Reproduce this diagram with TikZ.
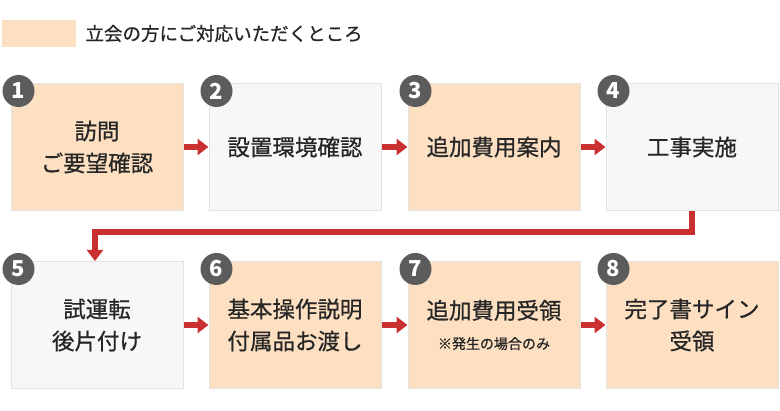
\documentclass[tikz,border=0pt]{standalone}
\usepackage{fontspec}
\setmainfont{Noto Sans CJK JP}
\newfontfamily\heavyjp[FakeBold=0.7]{Noto Sans CJK JP}
\usetikzlibrary{arrows.meta,positioning}
\definecolor{peach}{HTML}{FDDFC2}
\definecolor{pale}{HTML}{F7F7F7}
\definecolor{edge}{HTML}{E2E2E2}
\definecolor{flowred}{HTML}{C9302F}
\definecolor{numgray}{HTML}{5C5C5C}
\tikzset{
  stepbox/.style={draw=edge, line width=1pt, minimum width=172pt, minimum height=127pt,
    inner sep=0pt, align=center, font=\heavyjp\fontsize{22.5}{32}\selectfont, text=black!85},
  guest/.style={stepbox, fill=peach},
  staff/.style={stepbox, fill=pale},
  numdot/.style={circle, fill=numgray, minimum size=32pt, inner sep=0pt, text=white,
    font=\fontsize{22}{22}\selectfont\bfseries},
  flow/.style={flowred, line width=6pt, -{Triangle[width=16pt,length=11pt]}}
}
\begin{document}
\begin{tikzpicture}[x=1pt,y=-1pt]
  \useasboundingbox (0,0) rectangle (780,411);
  % legend
  \fill[peach] (2,20) rectangle (76,47);
  \node[anchor=west, font=\heavyjp\fontsize{18.5}{18.5}\selectfont, text=black!85] (legend) at (82,33.5) {立会の方にご対応いただくところ};
  % first row
  \node[guest] (s1) at (97,147) {訪問\\ご要望確認};
  \node[staff] (s2) at (295,147) {設置環境確認};
  \node[guest] (s3) at (494,147) {追加費用案内};
  \node[staff] (s4) at (692,147) {工事実施};
  % second row
  \node[staff] (s5) at (97,325) {試運転\\後片付け};
  \node[guest] (s6) at (295,325) {基本操作説明\\付属品お渡し};
  \node[guest] (s7) at (494,325) {\raisebox{6pt}{追加費用受領}\\[-8pt]{\fontsize{14}{14}\selectfont ※発生の場合のみ}};
  \node[guest] (s8) at (692,325) {完了書サイン\\受領};
  % numbers
  \foreach \i in {1,...,8}
    \node[numdot] (n\i) at ([xshift=8pt,yshift=-8pt]s\i.north west) {\i};
  % connectors
  \foreach \a/\b in {1/2,2/3,3/4,5/6,6/7,7/8}
    \draw[flow] (s\a.east) -- (s\b.west);
  \draw[flow] (s4.south) -- ++(0,21) -| ([xshift=-2pt]s5.north);
\end{tikzpicture}
\end{document}
